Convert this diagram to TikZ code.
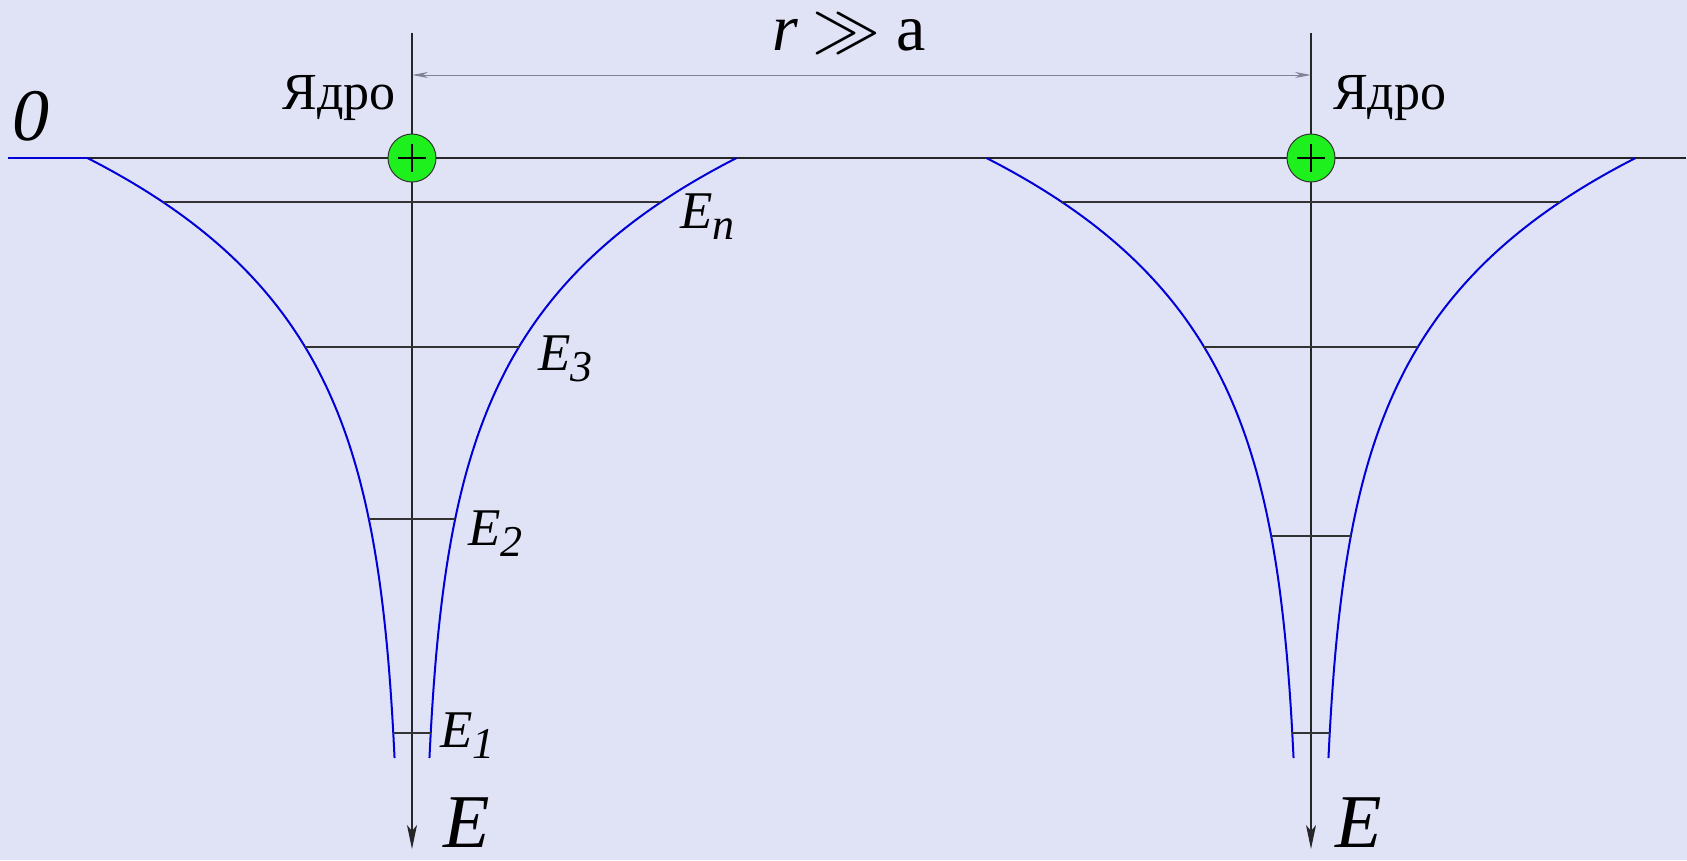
\documentclass[tikz,border=0pt]{standalone}
\usepackage{fontspec}
\usepackage{graphicx}
\setmainfont{Liberation Serif}
\usetikzlibrary{arrows.meta}
\definecolor{bgcol}{RGB}{224,226,246}
\definecolor{wellblue}{RGB}{0,0,215}
\definecolor{nucgreen}{RGB}{30,240,30}
\definecolor{dimgray}{RGB}{130,130,150}
\newcommand\Esub[1]{E\raisebox{-11pt}{\fontsize{44}{44}\selectfont #1}}
\begin{document}
\begin{tikzpicture}[x=1pt,y=-1pt,
  declare function={wd(\t)=10+314.5*exp(-\t/160.5);},
  axisline/.style={line width=1.3pt, black!85},
  wellc/.style={line width=2pt, wellblue},
  levelline/.style={line width=1.4pt, black!80},
  dimline/.style={line width=1pt, dimgray, {Stealth[length=16pt,width=6pt,inset=5pt]}-{Stealth[length=16pt,width=6pt,inset=5pt]}},
  nucleus/.style={circle, draw=black!80, line width=1pt, fill=nucgreen, minimum size=48pt, inner sep=0pt},
  lbl/.style={inner sep=0pt, anchor=base west, font=\fontsize{53}{53}\selectfont\itshape},
  biglbl/.style={inner sep=0pt, font=\fontsize{76}{76}\selectfont\itshape},
  txt/.style={inner sep=0pt, font=\fontsize{52}{52}\selectfont}]
\fill[bgcol] (0,0) rectangle (1687,860);
\useasboundingbox (0,0) rectangle (1687,860);

% named coordinates
\coordinate (zl) at (8,158);
\coordinate (zs) at (88,158);
\coordinate (zr) at (1686,158);
\coordinate (a1t) at (412,33);
\coordinate (a1b) at (412,849);
\coordinate (a2t) at (1311,33);
\coordinate (a2b) at (1311,849);
\coordinate (d1) at (412,75);
\coordinate (d2) at (1311,75);

% zero level
\draw[wellc] (zl) -- (zs);
\draw[axisline] (zs) -- (zr);

% energy axes
\draw[axisline, -{Stealth[length=24pt,width=10pt,inset=6pt]}] (a1t) -- (a1b);
\draw[axisline, -{Stealth[length=24pt,width=10pt,inset=6pt]}] (a2t) -- (a2b);

% distance arrow
\draw[dimline] (d1) -- (d2);

% wells
\foreach \cx in {412,1311}{
  \draw[wellc] plot[domain=0:600, samples=150, smooth] ({\cx+wd(\x)}, {158+\x});
  \draw[wellc] plot[domain=0:600, samples=150, smooth] ({\cx-wd(\x)}, {158+\x});
}

% levels, left well
\coordinate (l1a) at ({412-wd(44)},202);   \coordinate (l1b) at ({412+wd(44)},202);
\coordinate (l2a) at ({412-wd(189)},347);  \coordinate (l2b) at ({412+wd(189)},347);
\coordinate (l3a) at ({412-wd(361)},519);  \coordinate (l3b) at ({412+wd(361)},519);
\coordinate (l4a) at ({412-wd(575)},733);  \coordinate (l4b) at ({412+wd(575)},733);
\draw[levelline] (l1a) -- (l1b);
\draw[levelline] (l2a) -- (l2b);
\draw[levelline] (l3a) -- (l3b);
\draw[levelline] (l4a) -- (l4b);
% levels, right well
\coordinate (r1a) at ({1311-wd(44)},202);  \coordinate (r1b) at ({1311+wd(44)},202);
\coordinate (r2a) at ({1311-wd(189)},347); \coordinate (r2b) at ({1311+wd(189)},347);
\coordinate (r3a) at ({1311-wd(378)},536); \coordinate (r3b) at ({1311+wd(378)},536);
\coordinate (r4a) at ({1311-wd(575)},733); \coordinate (r4b) at ({1311+wd(575)},733);
\draw[levelline] (r1a) -- (r1b);
\draw[levelline] (r2a) -- (r2b);
\draw[levelline] (r3a) -- (r3b);
\draw[levelline] (r4a) -- (r4b);

% nuclei
\node[nucleus] (n1) at (412,158) {};
\node[nucleus] (n2) at (1311,158) {};
\foreach \n in {n1,n2}{
  \draw[line width=1.8pt] ([xshift=-14pt]\n.center) -- ([xshift=14pt]\n.center);
  \draw[line width=1.8pt] ([yshift=-14pt]\n.center) -- ([yshift=14pt]\n.center);
}

% labels
\node[txt, anchor=base east] (y1) at (396,109) {Ядро};
\node[txt, anchor=base west] (y2) at (1333,109) {Ядро};
\node[inner sep=0pt, anchor=base west, font=\fontsize{74}{74}\selectfont\itshape] (zero) at (12,140) {0};
\node[inner sep=0pt, anchor=base west, font=\fontsize{66}{66}\selectfont\itshape] (rr) at (772,50) {r};
\node[inner sep=0pt, anchor=base west] (gg) at (812,50) {\scalebox{6.8}{$\gg$}};
\node[inner sep=0pt, anchor=base west, font=\fontsize{66}{66}\selectfont] (aa) at (896,50) {a};
\node[lbl] (en) at (680,228) {\Esub{n}};
\node[lbl] (e3) at (538,370) {\Esub{3}};
\node[lbl] (e2) at (468,545) {\Esub{2}};
\node[lbl] (e1) at (440,747) {\Esub{1}};
\node[biglbl, anchor=base west] (eax1) at (443,847) {E};
\node[biglbl, anchor=base west] (eax2) at (1335,847) {E};
\end{tikzpicture}
\end{document}
